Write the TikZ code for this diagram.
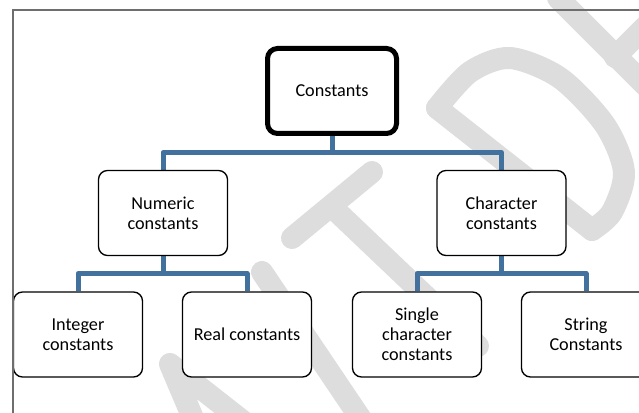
\documentclass[tikz,border=0pt]{standalone}
\usepackage{fontspec}
\setmainfont{Carlito}
\usetikzlibrary{backgrounds}
\definecolor{wmgray}{RGB}{221,221,221}
\definecolor{connblue}{RGB}{65,113,156}
\definecolor{framegray}{RGB}{110,110,110}
\begin{document}
\begin{tikzpicture}[x=0.75pt,y=-0.75pt,
  wm/.style={draw=wmgray,line width=16.5pt,line cap=round,line join=round},
  conn/.style={draw=connblue,line width=3.75pt,line join=round},
  box/.style={draw=black,fill=white,line width=1pt,rounded corners=6.75pt,
    minimum width=96.75pt,minimum height=63.75pt,align=center,inner sep=0pt,
    font=\fontsize{13.65}{15}\selectfont},
  topbox/.style={box,line width=3.75pt,rounded corners=7.5pt}]
\useasboundingbox (0,0) rectangle (639,413);

\node[topbox] (c) at (332,91) {Constants};
\node[box] (n) at (163,213) {Numeric\\constants};
\node[box] (ch) at (501.5,213) {Character\\constants};
\node[box] (i) at (78,334.5) {Integer\\constants};
\node[box] (r) at (247,334.5) {Real constants};
\node[box] (s) at (417,334.5) {Single\\character\\constants};
\node[box] (st) at (586,334.5) {String\\Constants};

\coordinate (b1) at (332,152.5);
\coordinate (b2) at (163,273.5);
\coordinate (b3) at (501.5,273.5);

\begin{pgfonlayer}{background}
  \fill[white] (0,0) rectangle (639,413);
  % watermark
  \draw[wm] (198,430) -- (170,364) -- (254,430);
  \draw[wm] (262,272) -- (365,425);
  \draw[wm] (292,238) -- (372,172);
  \draw[wm] (332,207) -- (478,346);
  \draw[wm] plot[smooth] coordinates {(437,108) (470,72) (510,58) (560,78) (605,125) (624,172) (612,212) (592,230)};
  \draw[wm] (437,108) -- (592,230);
  \draw[wm] (558,-2) -- (660,100);
  \draw[wm] (615,57) -- (660,12);
  % connectors
  \draw[conn] (c.south) -- (b1);
  \draw[conn] (n.north) |- (b1) -| (ch.north);
  \draw[conn] (n.south) -- (b2);
  \draw[conn] (i.north) |- (b2) -| (r.north);
  \draw[conn] (ch.south) -- (b3);
  \draw[conn] (s.north) |- (b3) -| (st.north);
\end{pgfonlayer}

\draw[framegray,line width=1.1pt] (13,420) -- (13,10) -- (645,10);
\end{tikzpicture}
\end{document}
